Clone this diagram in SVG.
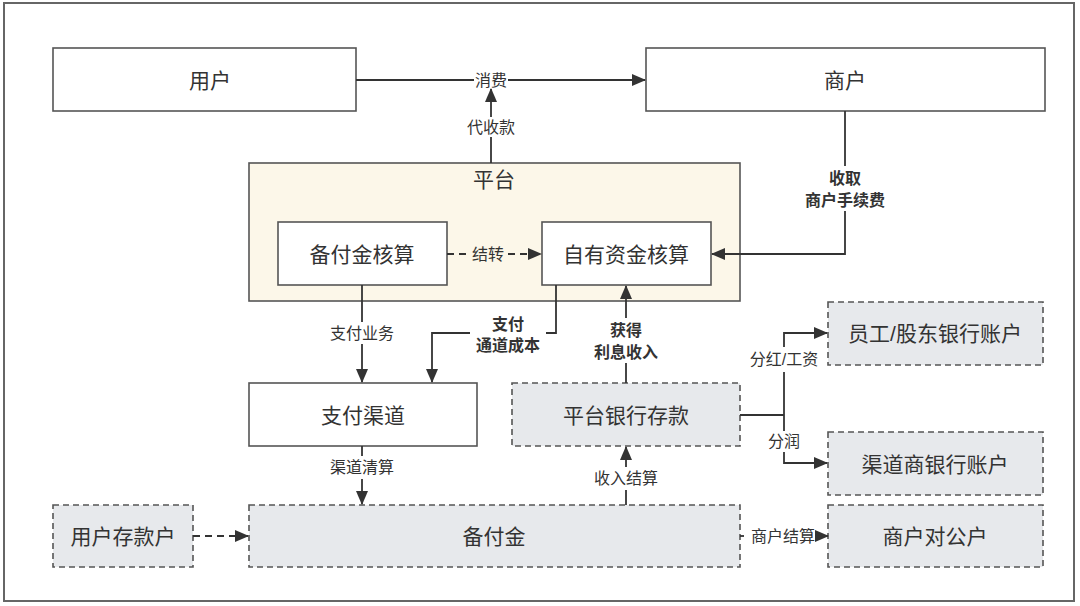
<svg xmlns="http://www.w3.org/2000/svg" width="1080" height="606" viewBox="0 0 1080 606">
<defs>
<marker id="ah" markerUnits="userSpaceOnUse" markerWidth="14" markerHeight="12" refX="13" refY="6" orient="auto">
<path d="M0,0 L14,6 L0,12 Z" fill="#333"/>
</marker>
<style>
.frame{fill:#fff;stroke:#666;stroke-width:2}
.box{fill:#fff;stroke:#555;stroke-width:1.6}
.plat{fill:#fcf7e9;stroke:#555;stroke-width:1.6}
.dbox{fill:#e7e9ec;stroke:#555;stroke-width:1.6;stroke-dasharray:6 4}
.t{font-family:"Liberation Sans","Noto Sans CJK SC",sans-serif;font-size:21px;fill:#333;text-anchor:middle;dominant-baseline:central}
.e{font-family:"Liberation Sans","Noto Sans CJK SC",sans-serif;font-size:16px;fill:#333;text-anchor:middle;dominant-baseline:central}
.b{font-family:"Liberation Sans","Noto Sans CJK SC",sans-serif;font-size:16px;font-weight:bold;fill:#333;text-anchor:middle;dominant-baseline:central}
.l{fill:none;stroke:#333;stroke-width:1.8}
.d{fill:none;stroke:#333;stroke-width:1.8;stroke-dasharray:7 5}
</style>
</defs>
<rect class="frame" x="4" y="3" width="1070" height="598"/>

<g id="user"><rect class="box" x="53" y="48" width="303" height="63"/><text class="t" x="210" y="80">用户</text></g>
<g id="merchant"><rect class="box" x="646" y="48" width="399" height="63"/><text class="t" x="845" y="80">商户</text></g>
<g id="platform"><rect class="plat" x="249" y="163" width="491" height="138"/><text class="t" x="494" y="179">平台</text></g>
<g id="reserve-acct"><rect class="box" x="278" y="222" width="169" height="63"/><text class="t" x="362" y="254">备付金核算</text></g>
<g id="own-acct"><rect class="box" x="542" y="222" width="169" height="63"/><text class="t" x="626" y="254">自有资金核算</text></g>
<g id="pay-channel"><rect class="box" x="249" y="383" width="228" height="63"/><text class="t" x="363" y="415">支付渠道</text></g>
<g id="bank-deposit"><rect class="dbox" x="512" y="383" width="228" height="63"/><text class="t" x="626" y="415">平台银行存款</text></g>
<g id="staff-account"><rect class="dbox" x="828" y="302" width="215" height="63"/><text class="t" x="935" y="333">员工/股东银行账户</text></g>
<g id="channel-account"><rect class="dbox" x="828" y="432" width="215" height="63"/><text class="t" x="935" y="464">渠道商银行账户</text></g>
<g id="user-deposit"><rect class="dbox" x="53" y="505" width="140" height="62"/><text class="t" x="123" y="536">用户存款户</text></g>
<g id="reserve"><rect class="dbox" x="249" y="505" width="491" height="62"/><text class="t" x="494" y="536">备付金</text></g>
<g id="merchant-account"><rect class="dbox" x="828" y="505" width="215" height="62"/><text class="t" x="935" y="536">商户对公户</text></g>

<g id="connectors">
<path class="l" d="M356,80 H474"/><path class="l" d="M508,80 H645" marker-end="url(#ah)"/>
<text class="e" x="491" y="80">消费</text>
<path class="l" d="M491,163 V137"/><path class="l" d="M491,117 V89" marker-end="url(#ah)"/>
<text class="e" x="491" y="127">代收款</text>
<path class="l" d="M845,111 V166"/><path class="l" d="M845,211 V254 H712" marker-end="url(#ah)"/>
<text class="b" x="845" y="178">收取</text><text class="b" x="845" y="200">商户手续费</text>
<path class="d" d="M447,254 H469"/><path class="d" d="M508,254 H541" marker-end="url(#ah)"/>
<text class="e" x="488" y="254">结转</text>
<path class="l" d="M362,285 V322"/><path class="l" d="M362,344 V382" marker-end="url(#ah)"/>
<text class="e" x="362" y="333">支付业务</text>
<path class="l" d="M556,285 V333 H546"/><path class="l" d="M470,333 H432 V382" marker-end="url(#ah)"/>
<text class="b" x="508" y="324">支付</text><text class="b" x="508" y="345">通道成本</text>
<path class="l" d="M626,383 V363"/><path class="l" d="M626,318 V286" marker-end="url(#ah)"/>
<text class="b" x="626" y="330">获得</text><text class="b" x="626" y="352">利息收入</text>
<path class="l" d="M626,505 V490"/><path class="l" d="M626,467 V447" marker-end="url(#ah)"/>
<text class="e" x="626" y="478">收入结算</text>
<path class="l" d="M362,446 V456"/><path class="l" d="M362,479 V504" marker-end="url(#ah)"/>
<text class="e" x="362" y="467">渠道清算</text>
<path class="d" d="M193,536 H248" marker-end="url(#ah)"/>
<path class="l" d="M740,536 H744"/><path class="l" d="M821,536 H828" marker-end="url(#ah)"/>
<text class="e" x="783" y="536">商户结算</text>
<path class="l" d="M740,415 H784"/>
<path class="l" d="M784,347 V333 H827" marker-end="url(#ah)"/>
<path class="l" d="M784,372 V431"/>
<path class="l" d="M784,452 V463 H827" marker-end="url(#ah)"/>
<text class="e" x="784" y="359">分红/工资</text>
<text class="e" x="784" y="441">分润</text>
</g>
</svg>
